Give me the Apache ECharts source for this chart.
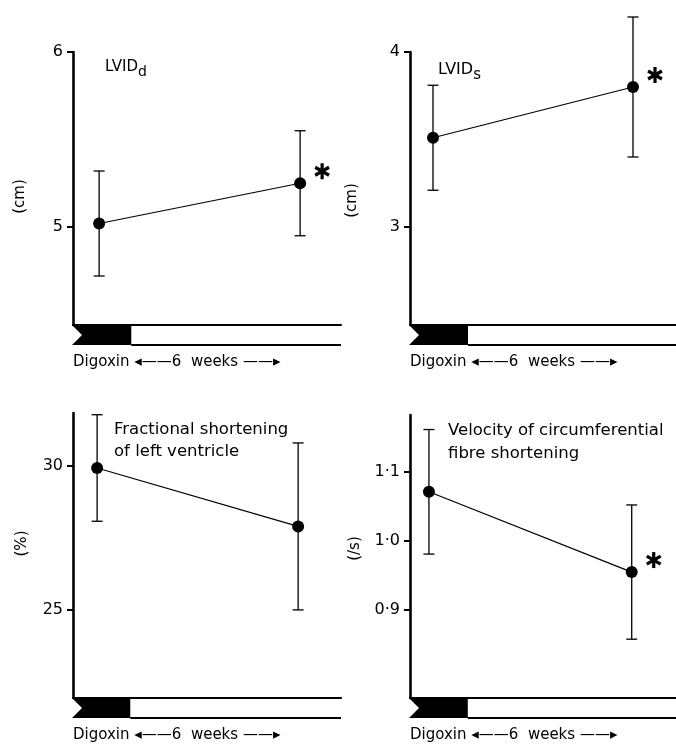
<!DOCTYPE html>
<html>
<head>
<meta charset="utf-8">
<script src="https://cdn.jsdelivr.net/npm/echarts@6/dist/echarts.min.js"></script>
<style>
  html, body { margin: 0; padding: 0; background: #fff; }
  #chart { width: 676px; height: 747px; }
</style>
</head>
<body>
<div id="chart"></div>
<script>
  // time points (weeks)
  const weeks = [0, 6];

  const lviddMean = [5.02, 5.25];
  const lviddSd = [0.30, 0.30];
  const lvidsMean = [3.51, 3.80];
  const lvidsSd = [0.30, 0.40];
  const fsMean = [29.93, 27.90];
  const fsSd = [1.85, 2.9];
  const vcfMean = [1.071, 0.955];
  const vcfSd = [0.09, 0.097];

  // 1 = significant (*)
  const lviddSig = [0, 1];
  const lvidsSig = [0, 1];
  const fsSig = [0, 0];
  const vcfSig = [0, 1];

  const lviddTicks = [5, 6];
  const lvidsTicks = [3, 4];
  const fsTicks = [25, 30];
  const vcfTicks = [0.9, 1.0, 1.1];

  const FONT = 'DejaVu Sans';

  const panels = [
    { mean: lviddMean, sd: lviddSd, sig: lviddSig, ticks: lviddTicks, unit: '(cm)', nameGap: 45, namePad: [0, 16, 0, 0],
      left: 73, top: 52, width: 268, height: 273, xMin: -0.78, xMax: 7.22, yMin: 4.44, yMax: 6, barEnd: 0.96 },
    { mean: lvidsMean, sd: lvidsSd, sig: lvidsSig, ticks: lvidsTicks, unit: '(cm)', nameGap: 50, namePad: [0, 24, 0, 0],
      left: 410, top: 52, width: 266, height: 273, xMin: -0.69, xMax: 7.29, yMin: 2.44, yMax: 4, barEnd: 1.05 },
    { mean: fsMean, sd: fsSd, sig: fsSig, ticks: fsTicks, unit: '(%)', nameGap: 43, namePad: [0, 0, 0, 24],
      left: 73, top: 413, width: 268, height: 285, xMin: -0.72, xMax: 7.28, yMin: 21.94, yMax: 31.84, barEnd: 0.99 },
    { mean: vcfMean, sd: vcfSd, sig: vcfSig, ticks: vcfTicks, unit: '(/s)', nameGap: 47, namePad: [0, 0, 0, 16], dot: true,
      left: 410, top: 415, width: 266, height: 283, xMin: -0.56, xMax: 7.31, yMin: 0.773, yMax: 1.182, barEnd: 1.15 },
  ];

  const renderErrorBar = (params, api) => {
    const x = api.value(0), m = api.value(1), s = api.value(2), sig = api.value(3);
    const top = api.coord([x, m + s]);
    const bot = api.coord([x, m - s]);
    const mid = api.coord([x, m]);
    const cap = 5.5;
    const style = { stroke: '#000', lineWidth: 1.3 };
    const children = [
      { type: 'line', shape: { x1: top[0], y1: top[1], x2: bot[0], y2: bot[1] }, style },
      { type: 'line', shape: { x1: top[0] - cap, y1: top[1], x2: top[0] + cap, y2: top[1] }, style },
      { type: 'line', shape: { x1: bot[0] - cap, y1: bot[1], x2: bot[0] + cap, y2: bot[1] }, style },
    ];
    if (sig) {
      const cx = mid[0] + 22, cy = mid[1] - 12, r = 8;
      [90, 30, 150].forEach((a) => {
        const dx = r * Math.cos(a * Math.PI / 180), dy = r * Math.sin(a * Math.PI / 180);
        children.push({ type: 'line', shape: { x1: cx - dx, y1: cy - dy, x2: cx + dx, y2: cy + dy },
          style: { stroke: '#000', lineWidth: 3.2 } });
      });
    }
    return { type: 'group', children };
  };

  // digoxin bar under the x axis: black notched part, then open white part
  const renderDigoxinBar = (params, api) => {
    const yMin = api.value(3);
    const p0 = api.coord([api.value(0), yMin]);
    const p1 = api.coord([api.value(1), yMin]);
    const p2 = api.coord([api.value(2), yMin]);
    const h = 20, y = p0[1];
    return {
      type: 'group',
      children: [
        { type: 'polygon',
          shape: { points: [[p0[0] - 1, y], [p1[0], y], [p1[0], y + h], [p0[0] - 1, y + h], [p0[0] + 9, y + h / 2]] },
          style: { fill: '#000' } },
        { type: 'line', shape: { x1: p1[0], y1: y + h, x2: p2[0], y2: y + h },
          style: { stroke: '#000', lineWidth: 2.2 } },
      ],
    };
  };

  const grid = [], xAxis = [], yAxis = [], series = [], graphic = [];

  panels.forEach((p, i) => {
    grid.push({ left: p.left, top: p.top, width: p.width, height: p.height });
    xAxis.push({
      type: 'value', gridIndex: i, min: p.xMin, max: p.xMax,
      axisLine: { onZero: false, lineStyle: { color: '#000', width: 2.2 } },
      axisTick: { show: false }, axisLabel: { show: false }, splitLine: { show: false },
    });
    yAxis.push({
      type: 'value', gridIndex: i, min: p.yMin, max: p.yMax,
      name: p.unit, nameLocation: 'middle', nameGap: p.nameGap,
      nameTextStyle: { fontFamily: FONT, fontSize: 15, color: '#000', padding: p.namePad },
      axisLine: { show: true, onZero: false, lineStyle: { color: '#000', width: 2.6 } },
      axisTick: { show: true, customValues: p.ticks, length: 6, lineStyle: { color: '#000', width: 2 } },
      axisLabel: {
        customValues: p.ticks, margin: 10, fontFamily: FONT, fontSize: 16, color: '#000',
        formatter: (v) => (p.dot ? v.toFixed(1).replace('.', '\u00b7') : String(v)),
      },
      splitLine: { show: false },
    });
    series.push({
      type: 'custom', xAxisIndex: i, yAxisIndex: i, clip: false, silent: true,
      renderItem: renderDigoxinBar,
      data: [[p.xMin, p.barEnd, p.xMax, p.yMin]],
      z: 1,
    });
    series.push({
      type: 'custom', xAxisIndex: i, yAxisIndex: i, clip: false, silent: true,
      renderItem: renderErrorBar,
      data: weeks.map((w, k) => [w, p.mean[k], p.sd[k], p.sig[k]]),
      z: 2,
    });
    series.push({
      type: 'line', xAxisIndex: i, yAxisIndex: i, silent: true, animation: false,
      data: weeks.map((w, k) => [w, p.mean[k]]),
      symbol: 'circle', symbolSize: 12,
      itemStyle: { color: '#000' },
      lineStyle: { color: '#000', width: 1.2 },
      z: 3,
    });
    const labelY = p.top + p.height + 39;
    graphic.push({
      type: 'text', left: p.left, top: labelY - 9,
      style: {
        text: 'Digoxin {r|\u25c2\u2014\u2014}6  weeks {r|\u2014\u2014\u25b8}',
        fontFamily: FONT, fontSize: 15, fill: '#000',
        rich: { r: { fontFamily: FONT, fontSize: 15, fill: '#000' } },
      },
    });
  });

  // panel titles
  graphic.push(
    { type: 'text', left: 105, top: 60,
      style: { text: '{a|LVID}{b|d}', rich: { a: { fontFamily: FONT, fontSize: 15 }, b: { fontFamily: FONT, fontSize: 14, padding: [10, 0, 0, 0] } } } },
    { type: 'text', left: 438, top: 62,
      style: { text: '{a|LVID}{b|s}', rich: { a: { fontFamily: FONT, fontSize: 16 }, b: { fontFamily: FONT, fontSize: 15, padding: [10, 0, 0, 0] } } } },
    { type: 'text', left: 114, top: 419,
      style: { text: 'Fractional shortening\nof left ventricle', fontFamily: FONT, fontSize: 16.5, lineHeight: 22, fill: '#000' } },
    { type: 'text', left: 448, top: 419,
      style: { text: 'Velocity of circumferential\nfibre shortening', fontFamily: FONT, fontSize: 16.5, lineHeight: 23, fill: '#000' } }
  );

  const option = {
    animation: false,
    backgroundColor: '#fff',
    grid, xAxis, yAxis, series, graphic,
  };

  const myChart = echarts.init(document.getElementById('chart'));
  myChart.setOption(option);
</script>
</body>
</html>
